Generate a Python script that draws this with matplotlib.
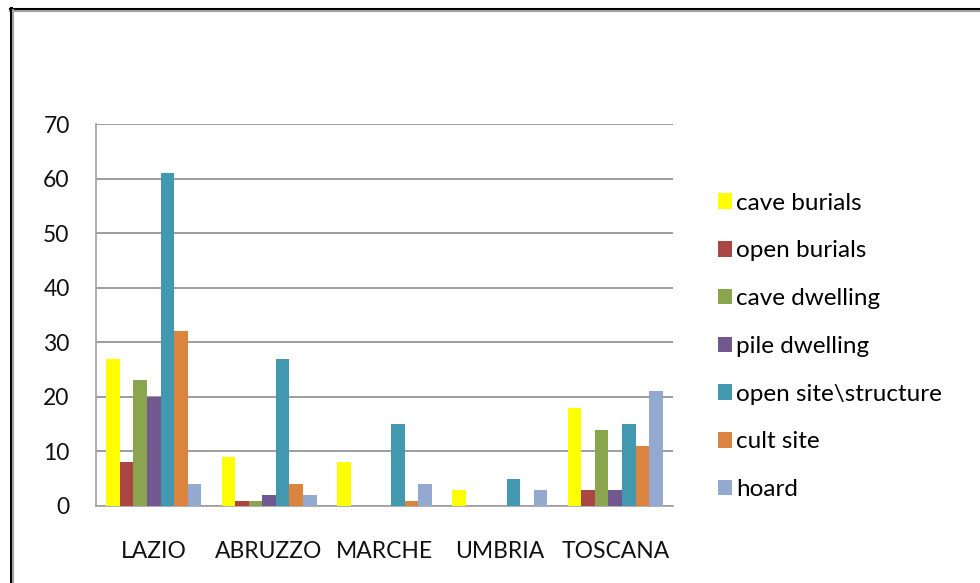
import matplotlib.pyplot as plt
from matplotlib.lines import Line2D
from matplotlib.patches import Patch
import numpy as np

regions = ['LAZIO', 'ABRUZZO', 'MARCHE', 'UMBRIA', 'TOSCANA']
cave_burials = [27, 9, 8, 3, 18]
open_burials = [8, 1, 0, 0, 3]
cave_dwelling = [23, 1, 0, 0, 14]
pile_dwelling = [20, 2, 0, 0, 3]
open_site = [61, 27, 15, 5, 15]
cult_site = [32, 4, 1, 0, 11]
hoard = [4, 2, 4, 3, 21]

series = [cave_burials, open_burials, cave_dwelling, pile_dwelling,
          open_site, cult_site, hoard]
names = ['cave burials', 'open burials', 'cave dwelling', 'pile dwelling',
         'open site\\structure', 'cult site', 'hoard']
colors = ['#FFFF00', '#AA4644', '#8BA54E', '#71588F', '#4198AF', '#DB843D', '#93A9D0']

plt.rcParams['font.family'] = ['Lato', 'DejaVu Sans']

fig = plt.figure(figsize=(9.8, 5.83), dpi=100)
ax = fig.add_axes([0.098, 0.1321, 0.5887, 0.6552])

x = np.arange(len(regions))
w = 1 / 8.5
for i, vals in enumerate(series):
    ax.bar(x + (i - 3) * w, vals, width=w, color=colors[i], zorder=3)

ax.set_xlim(-0.5, len(regions) - 0.5)
ax.set_ylim(0, 70)
ax.set_yticks(range(0, 71, 10))
ax.set_xticks(x)
ax.set_xticklabels(regions)
ax.yaxis.grid(True, color='#8c8c8c', linewidth=1.2, zorder=0)
for s in ['top', 'right']:
    ax.spines[s].set_visible(False)
for s in ['left', 'bottom']:
    ax.spines[s].set_color('#a0a0a0')
    ax.spines[s].set_linewidth(1.2)
ax.tick_params(axis='both', length=0, labelsize=16.5, colors='#111111')
ax.tick_params(axis='y', pad=19)
ax.tick_params(axis='x', pad=25)

handles = [Patch(facecolor=c) for c in colors]
fig.legend(handles, names, loc='upper left', bbox_to_anchor=(0.71, 0.707),
           frameon=False, fontsize=17.5, handlelength=0.6, handleheight=0.6,
           handletextpad=0.17, labelspacing=1.1)

# outer frame (top and left edges only)
fig.add_artist(Line2D([10 / 980, 1], [1 - 9 / 583, 1 - 9 / 583], color='black', linewidth=2.2))
fig.add_artist(Line2D([10 / 980, 1], [1 - 11 / 583, 1 - 11 / 583], color='#a0a0a0', linewidth=1.5))
fig.add_artist(Line2D([11 / 980, 11 / 980], [0, 1 - 8 / 583], color='black', linewidth=2.2))
fig.add_artist(Line2D([13 / 980, 13 / 980], [0, 1 - 10 / 583], color='#a0a0a0', linewidth=1.5))

fig.savefig('out.png', dpi=100)
